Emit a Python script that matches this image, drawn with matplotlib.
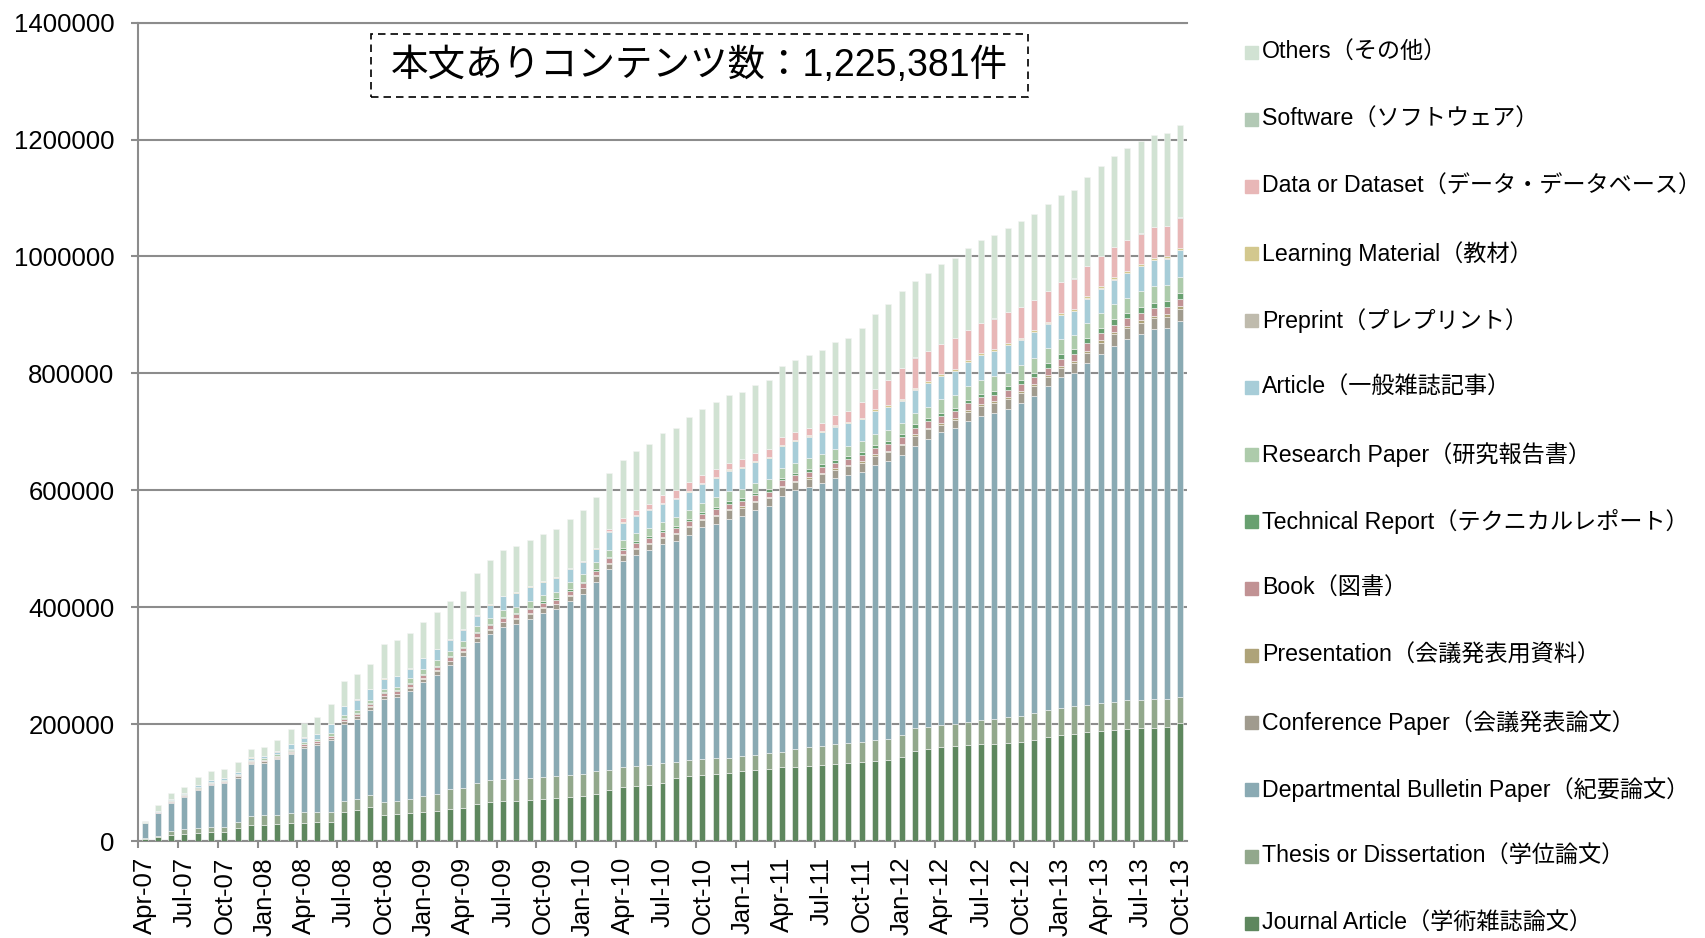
import numpy as np
import matplotlib
matplotlib.use('Agg')
import matplotlib.pyplot as plt
from matplotlib.patches import Rectangle

plt.rcParams['font.family'] = ['Liberation Sans', 'Noto Sans CJK JP']

# monthly categories Apr-07 .. Oct-13 (79 bars), label every 3rd month
n_months = 79
tick_labels = ['Apr-07', 'Jul-07', 'Oct-07',
               'Jan-08', 'Apr-08', 'Jul-08', 'Oct-08',
               'Jan-09', 'Apr-09', 'Jul-09', 'Oct-09',
               'Jan-10', 'Apr-10', 'Jul-10', 'Oct-10',
               'Jan-11', 'Apr-11', 'Jul-11', 'Oct-11',
               'Jan-12', 'Apr-12', 'Jul-12', 'Oct-12',
               'Jan-13', 'Apr-13', 'Jul-13', 'Oct-13']

journal = [3000, 6000, 9700, 12000, 13100, 14900, 16000, 21700, 26900, 28000, 28600, 30300, 30900, 32000, 32000, 50200, 52600, 57800, 44000, 45800,
           48600, 50300, 52000, 55400, 57100, 64000, 67400, 68600, 69100, 70800, 72600, 74300, 76000, 77700, 81100, 86800, 93100, 94800, 96600, 98800,
           108500, 110800, 112500, 114800, 117100, 119400, 121700, 122800, 126300, 127400, 129100, 130800, 132500, 134300, 136000, 137700, 139400, 144500, 154800, 157100,
           160000, 161700, 163400, 165100, 165700, 167400, 170200, 172000, 177100, 180500, 182800, 185700, 187400, 189100, 190800, 192500, 193700, 194200, 201100]
thesis = [2000, 2500, 7400, 8000, 8600, 9600, 8500, 10300, 15400, 16000, 15400, 17200, 18300, 17700, 18200, 18400, 19400, 21000, 23400, 23300,
          23400, 27400, 29100, 33200, 34300, 36000, 37100, 37100, 37200, 36600, 36500, 37700, 37700, 37700, 39400, 34900, 33200, 34300, 34200, 34300,
          27500, 27500, 27500, 26900, 25700, 25700, 25100, 28000, 26200, 29700, 30900, 30900, 34300, 34200, 34200, 34300, 34300, 36600, 37700, 38300,
          38200, 38300, 39400, 41100, 42800, 44000, 44000, 46200, 46300, 46300, 48600, 47400, 48500, 49100, 49700, 49200, 49700, 48800, 44600]
bulletin = [25900, 39000, 48600, 55900, 66200, 71500, 74400, 76500, 89200, 89700, 96000, 101100, 110200, 114300, 122400, 131900, 137100, 145700, 174800, 176500,
            183900, 193700, 203400, 211900, 225700, 240600, 249100, 260600, 265700, 273100, 281700, 284500, 297100, 307400, 322900, 343300, 352400, 359900, 367400, 374200,
            377000, 385700, 396500, 401100, 408600, 411400, 420000, 421700, 438300, 442800, 445000, 451400, 453700, 458300, 461800, 471300, 475900, 480000, 484000, 492400,
            500800, 506400, 515000, 521300, 524200, 527500, 534500, 543600, 554400, 566400, 568700, 584100, 597300, 608200, 617900, 625800, 632700, 634800, 644100]
conference = [300, 800, 1200, 1500, 1700, 1900, 2000, 2200, 2400, 2500, 2600, 2800, 2900, 3000, 3100, 4500, 4800, 5100, 5500, 5800,
              6200, 6500, 6800, 7000, 6700, 7400, 7600, 7700, 8000, 8200, 8400, 8400, 9000, 9200, 9400, 9500, 10200, 10400, 10500, 10600,
              12000, 12400, 12300, 13300, 14100, 13800, 13500, 13800, 14200, 14000, 14800, 14500, 14800, 14800, 15400, 15800, 15900, 16100, 16800, 16500,
              13400, 14100, 16100, 16700, 16000, 16700, 17100, 16200, 16100, 16000, 17400, 17800, 19600, 20300, 18900, 19300, 18000, 18800, 20500]
presentation = [100, 200, 300, 300, 400, 400, 400, 500, 500, 500, 500, 600, 600, 600, 700, 700, 700, 800, 800, 800,
                900, 900, 1000, 1000, 1000, 1100, 1200, 1200, 1200, 1300, 1300, 1300, 1400, 1500, 1500, 1500, 1600, 1600, 1700, 1700,
                1900, 2000, 1900, 2000, 2100, 2000, 2000, 2000, 2000, 2000, 2200, 2200, 2200, 2200, 2300, 2400, 2400, 2500, 2500, 2500,
                2900, 3000, 3100, 3200, 3300, 3400, 3500, 3600, 3700, 3800, 3900, 4000, 4200, 4300, 4500, 4600, 4800, 4900, 5100]
book = [200, 600, 900, 1000, 1200, 1300, 1400, 1600, 1900, 2000, 2100, 2300, 2500, 2700, 2900, 3300, 3500, 3800, 4200, 4300,
        5300, 5500, 5800, 6000, 5800, 6200, 6400, 6500, 6700, 6800, 6900, 6900, 7300, 7500, 7600, 7400, 8100, 8200, 8200, 8300,
        8400, 8600, 8600, 9200, 9700, 9500, 9300, 9500, 9800, 9700, 10000, 9800, 10000, 10000, 10400, 10600, 10700, 10800, 11200, 11000,
        11400, 11500, 11600, 11700, 11800, 11900, 12000, 12000, 12100, 12100, 12200, 12200, 12300, 12300, 12400, 12400, 12500, 12500, 12600]
technical = [100, 200, 300, 300, 400, 400, 500, 500, 600, 600, 700, 800, 800, 900, 1000, 1200, 1300, 1400, 1500, 1500,
             1800, 1900, 2000, 2000, 2000, 2200, 2300, 2300, 2400, 2500, 2600, 2600, 2800, 2900, 2900, 2900, 3200, 3300, 3300, 3400,
             3800, 4000, 3900, 4300, 4600, 4500, 4400, 4500, 4600, 4500, 4900, 4800, 4900, 4900, 5100, 5200, 5300, 5400, 5800, 5700,
             5800, 6000, 6200, 6400, 6700, 7000, 7300, 7600, 7900, 8200, 8400, 8600, 8800, 9000, 9300, 9500, 9800, 10000, 10300]
research = [200, 600, 1000, 1200, 1500, 1700, 1800, 2000, 2300, 2400, 2600, 3000, 3300, 3500, 4000, 5200, 5500, 5800, 6000, 6200,
            8000, 8400, 8900, 9100, 9200, 9700, 10200, 10400, 10700, 10900, 11000, 11000, 11700, 12200, 12400, 12200, 13700, 14000, 14200, 14500,
            15000, 15400, 15300, 16200, 17000, 16700, 16400, 16800, 17100, 16900, 17600, 17400, 17800, 17800, 18500, 18900, 19000, 19300, 20100, 19800,
            22900, 22900, 23400, 23400, 24600, 23400, 25100, 25100, 25100, 25100, 24000, 25700, 25100, 25700, 25700, 26900, 28000, 27400, 26900]
article = [300, 1100, 1700, 1700, 2300, 2800, 3000, 3000, 3400, 4000, 4600, 7400, 7400, 8000, 16000, 15400, 17100, 18300, 17100, 17700,
           16000, 17700, 18900, 18900, 20000, 18300, 22300, 24000, 22900, 24600, 21700, 22900, 21700, 21700, 22300, 30900, 28600, 30300, 30900, 31400,
           31400, 30900, 32600, 33100, 34300, 34900, 35400, 35400, 37100, 37100, 37100, 37100, 38900, 38300, 37700, 39400, 39400, 38300, 38900, 40000,
           40000, 40000, 41100, 42300, 42800, 46800, 44000, 44000, 42300, 41100, 40000, 42300, 41700, 42300, 42300, 42800, 44600, 44600, 45100]
preprint = [0, 100, 100, 100, 100, 100, 100, 100, 100, 100, 200, 200, 200, 200, 200, 200, 200, 200, 300, 300,
            400, 400, 400, 400, 400, 500, 500, 500, 500, 500, 500, 500, 600, 600, 600, 600, 600, 600, 600, 600,
            600, 600, 600, 700, 700, 700, 700, 700, 700, 700, 700, 700, 700, 700, 800, 800, 800, 800, 800, 800,
            900, 900, 900, 900, 900, 900, 1000, 1000, 1000, 1000, 1000, 1000, 1000, 1000, 1000, 1000, 1000, 1000, 1000]
learning = [0, 100, 200, 200, 200, 300, 300, 300, 300, 300, 300, 400, 400, 400, 400, 500, 500, 500, 500, 500,
            600, 700, 700, 700, 700, 800, 800, 800, 800, 800, 800, 800, 900, 900, 900, 900, 900, 900, 900, 1000,
            1100, 1200, 1200, 1500, 1700, 1600, 1500, 1600, 1700, 1700, 1700, 1700, 1800, 1900, 1900, 2000, 2200, 2300, 2400, 2300,
            2400, 2400, 2500, 2500, 2500, 2600, 2600, 2600, 2700, 2700, 2700, 2800, 2800, 2800, 2900, 2900, 2900, 3000, 3000]
dataset = [0, 0, 0, 0, 0, 0, 0, 0, 0, 0, 0, 0, 0, 0, 0, 0, 0, 0, 0, 0,
           0, 0, 0, 0, 0, 0, 0, 0, 0, 0, 0, 0, 0, 0, 0, 3400, 6900, 7400, 8000, 12600,
           12600, 14900, 13100, 12600, 10900, 13100, 14300, 13700, 13100, 13100, 13100, 13700, 17100, 17700, 26900, 34300, 43400, 52600, 52000, 52000,
           51400, 52600, 50800, 52000, 52600, 52600, 52600, 52000, 52600, 52600, 52600, 51400, 52000, 51400, 52000, 52000, 52000, 51400, 52000]
software = [0, 0, 0, 0, 0, 0, 0, 0, 0, 0, 0, 0, 0, 0, 0, 0, 0, 0, 0, 0,
            100, 100, 100, 100, 100, 100, 100, 100, 100, 100, 100, 100, 100, 100, 100, 100, 100, 100, 100, 100,
            100, 100, 100, 200, 200, 200, 200, 200, 200, 200, 200, 200, 200, 200, 200, 300, 300, 300, 300, 300,
            300, 300, 300, 300, 400, 400, 400, 400, 400, 500, 500, 500, 500, 500, 600, 600, 600, 600, 600]
others = [2600, 10400, 11300, 10800, 14400, 14400, 15400, 16000, 14500, 14800, 18700, 25100, 24000, 29000, 33600, 42900, 43200, 43100, 58600, 61400,
          61300, 61300, 62200, 64500, 65500, 71900, 74900, 78400, 79800, 78500, 80400, 82000, 85100, 86200, 88000, 95800, 98700, 101500, 102700, 107300,
          107400, 110900, 113200, 114800, 115500, 114900, 116500, 118300, 121100, 122900, 124000, 124700, 125200, 125600, 126400, 128600, 130200, 131500, 130700, 133300,
          136500, 137700, 140500, 140600, 142900, 144000, 145700, 146300, 148000, 149600, 150700, 152500, 154200, 155400, 157700, 157600, 158300, 158900, 158500]

# stacking order, bottom to top
series = [journal, thesis, bulletin, conference, presentation, book, technical,
          research, article, preprint, learning, dataset, software, others]
names = ['Journal Article（学術雑誌論文）', 'Thesis or Dissertation（学位論文）',
         'Departmental Bulletin Paper（紀要論文）', 'Conference Paper（会議発表論文）',
         'Presentation（会議発表用資料）', 'Book（図書）', 'Technical Report（テクニカルレポート）',
         'Research Paper（研究報告書）', 'Article（一般雑誌記事）', 'Preprint（プレプリント）',
         'Learning Material（教材）', 'Data or Dataset（データ・データベース）',
         'Software（ソフトウェア）', 'Others（その他）']
colors = ['#5e875e', '#92a88c', '#8aaab3', '#a09b8e', '#aea379', '#c19294', '#68a070',
          '#adcbab', '#a7cdd8', '#bfbbad', '#d3c88e', '#e8b7b7', '#b2c9b5', '#d1e2d3']

W, H = 1706, 938
fig = plt.figure(figsize=(W / 100, H / 100), dpi=100)
ax = fig.add_axes([138 / W, 1 - 841 / H, (1187 - 138) / W, (841 - 22.7) / H])

x = np.arange(n_months)
bottom = np.zeros(n_months)
for vals, color in zip(series, colors):
    vals = np.array(vals, dtype=float)
    ax.bar(x, vals, 0.45, bottom=bottom, color=color, edgecolor='#f4f4f4',
           linewidth=0.4, zorder=3)
    bottom += vals

grey = '#8c8c8c'
ax.set_xlim(-0.5, n_months - 0.5)
ax.set_ylim(0, 1400000)
ax.set_yticks(np.arange(0, 1400001, 200000))
ax.set_yticklabels([str(v) for v in range(0, 1400001, 200000)])
ax.yaxis.grid(True, color=grey, linewidth=1.5, zorder=0)
ax.set_axisbelow(True)
for s in ['top', 'right']:
    ax.spines[s].set_visible(False)
for s in ['left', 'bottom']:
    ax.spines[s].set_color(grey)
    ax.spines[s].set_linewidth(1.5)
ax.axhline(1400000, color=grey, linewidth=1.5, clip_on=False, zorder=1)

ax.tick_params(axis='y', length=5, width=1.5, color=grey, pad=12, labelsize=18.5)
ax.set_xticks(x[::3])
ax.set_xticklabels(tick_labels, rotation=90)
ax.tick_params(axis='x', which='major', length=0, pad=11.5, labelsize=18.5)
ax.set_xticks(np.arange(-0.5, n_months, 3), minor=True)
ax.tick_params(axis='x', which='minor', length=5, width=1.5, color=grey)

# legend (reversed order, Others on top)
for k, (name, color) in enumerate(zip(names[::-1], colors[::-1])):
    yc = 52.5 + 66.98 * k
    fig.patches.append(Rectangle((1245 / W, 1 - (yc + 6.5) / H), 13 / W, 13 / H,
                                 transform=fig.transFigure, color=color))
    fig.text(1262 / W, 1 - yc / H, name, ha='left', va='center', fontsize=16.7)

# annotation box
fig.patches.append(Rectangle((371 / W, 1 - 97 / H), 657 / W, 63 / H, transform=fig.transFigure,
                             fill=False, edgecolor='black', linewidth=1.2, linestyle=(0, (4.5, 3))))
fig.text(699.5 / W, 1 - 65.5 / H, '本文ありコンテンツ数：1,225,381件', ha='center', va='center', fontsize=27)

fig.savefig('out.png', dpi=100)
